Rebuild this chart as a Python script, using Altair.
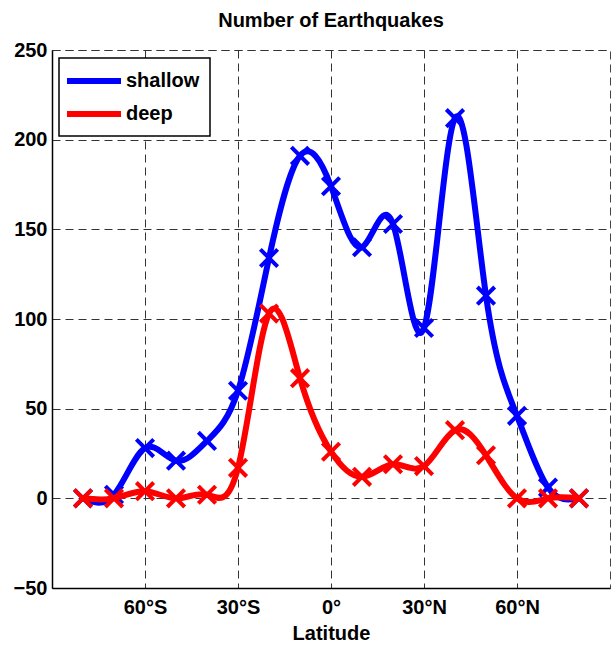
import altair as alt
import pandas as pd

# Latitude bins (degrees, south negative) and earthquake counts per bin
latitude = [-80, -70, -60, -50, -40, -30, -20, -10, 0, 10, 20, 30, 40, 50, 60, 70, 80]
shallow = [0, 2, 28, 21, 32, 60, 134, 191, 174, 140, 153, 95, 212, 113, 46, 6, 0]
deep = [0, 0, 4, 0, 2, 17, 103, 67, 26, 12, 19, 18, 38, 24, 0, 0, 0]

series_names = ["shallow", "deep"]
series_colors = ["#0000ff", "#ff0000"]

rows = []
for name, values in zip(series_names, [shallow, deep]):
    for lat, v in zip(latitude, values):
        rows.append({"lat": lat, "count": v, "series": name})
df = pd.DataFrame(rows)

FONT = "Liberation Sans"
X_SHAPE = "M-1,-1L1,1M1,-1L-1,1"
# long horizontal stroke for legend entries (wider than the nominal symbol box)
LEGEND_LINE = "M-2.7,0L2.7,0"

x_enc = alt.X(
    "lat:Q",
    scale=alt.Scale(domain=[-90, 90], nice=False, zero=False),
    axis=alt.Axis(
        values=[-60, -30, 0, 30, 60],
        labelExpr="datum.value == 0 ? '0°' : (abs(datum.value) + '°' + (datum.value < 0 ? 'S' : 'N'))",
        title="Latitude",
    ),
)
y_enc = alt.Y(
    "count:Q",
    scale=alt.Scale(domain=[-50, 250], nice=False, zero=False),
    axis=alt.Axis(values=[-50, 0, 50, 100, 150, 200, 250], title=None),
)

layers = []
for name, col in zip(series_names, series_colors):
    part = alt.Chart(df).transform_filter(alt.datum.series == name)
    layers.append(
        part.mark_line(
            interpolate="natural", strokeWidth=6, strokeCap="round", strokeJoin="round"
        ).encode(
            x=x_enc,
            y=y_enc,
            color=alt.Color(
                "series:N",
                scale=alt.Scale(domain=series_names, range=series_colors),
                legend=alt.Legend(title=None),
            ),
        )
    )
    layers.append(
        part.mark_point(
            shape=X_SHAPE, size=300, strokeWidth=4, filled=False, opacity=1, color=col
        ).encode(x=x_enc, y=y_enc)
    )

chart = (
    alt.layer(*layers)
    .properties(
        width=558,
        height=538,
        title=alt.TitleParams(
            "Number of Earthquakes",
            font=FONT,
            fontSize=20,
            fontWeight="bold",
            color="black",
            anchor="middle",
            offset=9,
        ),
        autosize=alt.AutoSizeParams(type="none"),
        padding={"left": 52, "top": 50, "right": 3, "bottom": 64},
    )
    .configure(background="white")
    .configure_view(stroke="#444444", strokeWidth=1, strokeDash=[8, 5])
    .configure_axis(
        labelFont=FONT,
        labelFontSize=20,
        labelFontWeight="bold",
        labelColor="black",
        titleFont=FONT,
        titleFontSize=20,
        titleFontWeight="bold",
        titleColor="black",
        domainColor="black",
        domainWidth=1.5,
        ticks=False,
        grid=True,
        gridColor="#333333",
        gridDash=[8, 5],
        gridWidth=1,
        gridOpacity=1,
    )
    .configure_axisX(labelPadding=9, titlePadding=6)
    .configure_axisY(labelPadding=5)
    .configure_legend(
        orient="none",
        legendX=7,
        legendY=8,
        strokeColor="black",
        strokeWidth=1.5,
        fillColor="white",
        padding=10,
        cornerRadius=0,
        symbolType=LEGEND_LINE,
        symbolSize=400,
        symbolOffset=12,
        symbolStrokeWidth=6,
        labelFont=FONT,
        labelFontSize=20,
        labelFontWeight="bold",
        labelColor="black",
        labelOffset=19,
        rowPadding=8,
    )
)

chart.save("out.html", embed_options={"renderer": "svg", "actions": False})
